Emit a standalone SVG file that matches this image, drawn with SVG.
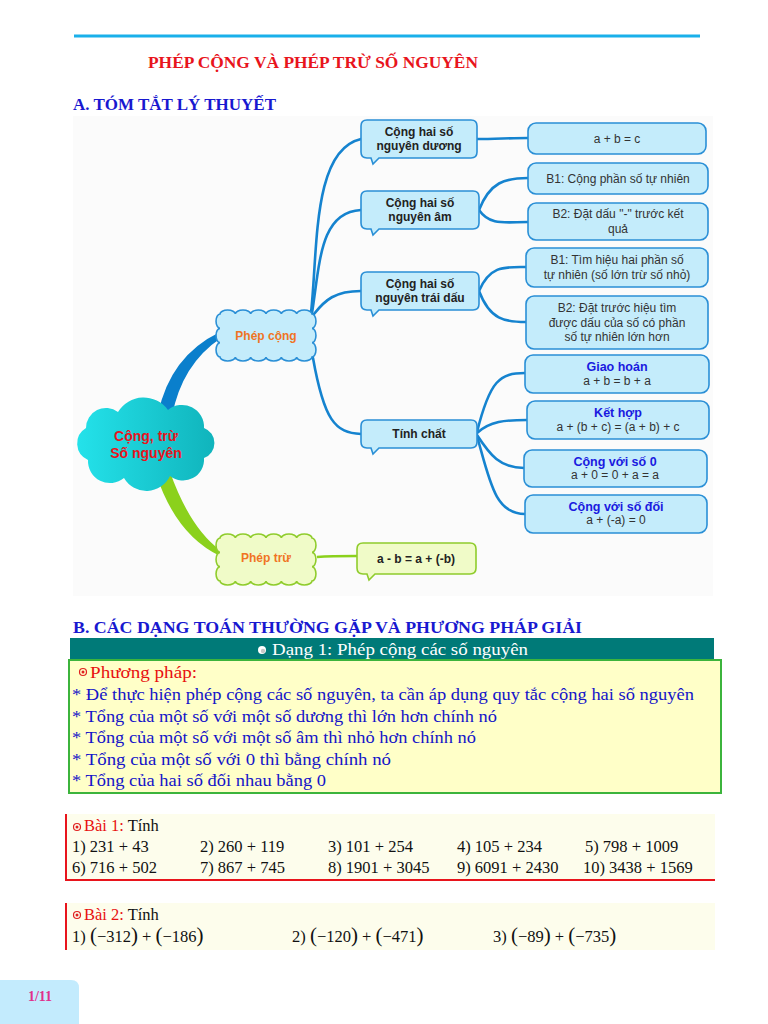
<svg xmlns="http://www.w3.org/2000/svg" width="768" height="1024" viewBox="0 0 768 1024">
<defs>
<linearGradient id="cloudG" x1="0" y1="0" x2="1" y2="0">
<stop offset="0" stop-color="#24e2ea"/>
<stop offset="1" stop-color="#10b4bc"/>
</linearGradient>
<style>
.serif{font-family:"Liberation Serif","Times New Roman",serif}
.sans{font-family:"Liberation Sans",Arial,sans-serif}
.h{font-weight:bold;font-size:17px}
.bb{fill:#c4ecfb;stroke:#2a8fd6;stroke-width:1.6}
.gb{fill:#f0fbc8;stroke:#8fcc2c;stroke-width:1.6}
.lb{font-family:"Liberation Sans",Arial,sans-serif;font-weight:bold;font-size:12px;fill:#222;text-anchor:middle}
.rt{font-family:"Liberation Sans",Arial,sans-serif;font-size:12px;fill:#333;text-anchor:middle}
.rh{font-family:"Liberation Sans",Arial,sans-serif;font-size:12.5px;font-weight:bold;fill:#1a1ae0;text-anchor:middle}
.con{fill:none;stroke:#1583cf;stroke-width:2.6;stroke-linecap:round}
.pp{font-family:"Liberation Serif","Times New Roman",serif;font-size:17.5px;fill:#1414c8}
.ex{font-family:"Liberation Serif","Times New Roman",serif;font-size:16.5px;fill:#111}
.ic{fill:none;stroke:#e02020}
</style>
</defs>
<rect width="768" height="1024" fill="#ffffff"/>
<line x1="74" y1="36" x2="700" y2="36" stroke="#1ab0ea" stroke-width="3"/>
<text x="148" y="68" class="serif h" fill="#e8141c" textLength="330" lengthAdjust="spacingAndGlyphs">PHÉP CỘNG VÀ PHÉP TRỪ SỐ NGUYÊN</text>
<text x="73" y="110" class="serif h" fill="#1818d0" textLength="203" lengthAdjust="spacingAndGlyphs">A. TÓM TẮT LÝ THUYẾT</text>
<rect x="73" y="116" width="640" height="480" fill="#fbfbfb"/>

<g id="connectors">
<path d="M158 414 Q170 356 220 332 L221 338 Q182 364 172 416 Z" fill="#0a7fcc"/>
<path d="M156 474 Q176 535 220 556 L220 550 Q190 528 170 472 Z" fill="#8bd11c"/>
<path class="con" d="M311 313 C318 250 312 150 361 139"/>
<path class="con" d="M312 313 C320 262 320 212 361 210"/>
<path class="con" d="M314 314 C325 300 335 291 361 291"/>
<path class="con" d="M313 358 C324 420 335 433 361 434"/>
<path class="con" d="M477 139 C495 139 510 138 528 138"/>
<path class="con" d="M479 210 C490 182 505 178 528 178"/>
<path class="con" d="M479 210 C490 226 505 222 528 222"/>
<path class="con" d="M479 291 C490 265 505 267 526 267"/>
<path class="con" d="M479 291 C490 320 505 322 526 322"/>
<path class="con" d="M477 432 C490 380 500 373 525 373"/>
<path class="con" d="M477 433 C490 421 505 420 527 420"/>
<path class="con" d="M477 435 C490 455 500 468 524 468"/>
<path class="con" d="M477 436 C490 482 495 514 525 514"/>
<path d="M317 557 C330 556 340 556 357 556" fill="none" stroke="#8bd11c" stroke-width="2.6"/>
</g>

<g id="root">
<path d="M86 428 A20 20 0 0 1 118 412 A30 30 0 0 1 168 410 A22 22 0 0 1 204 428 A16 16 0 0 1 204 458 A21 21 0 0 1 170 476 A26 26 0 0 1 124 478 A22 22 0 0 1 88 460 A18 18 0 0 1 86 428 Z" fill="url(#cloudG)"/>
<text x="146" y="441" class="sans" font-size="14" font-weight="bold" fill="#e8141c" text-anchor="middle">Cộng, trừ</text>
<text x="146" y="458" class="sans" font-size="14" font-weight="bold" fill="#e8141c" text-anchor="middle">Số nguyên</text>
</g>

<g id="phepcong">
<path class="bb" d="M220 314 a7.667 4 0 0 1 15.333 0 a7.667 4 0 0 1 15.333 0 a7.667 4 0 0 1 15.333 0 a7.667 4 0 0 1 15.333 0 a7.667 4 0 0 1 15.333 0 a7.667 4 0 0 1 15.333 0 a4 7.167 0 0 1 0 14.333 a4 7.167 0 0 1 0 14.333 a4 7.167 0 0 1 0 14.333 a7.667 4 0 0 1 -15.333 0 a7.667 4 0 0 1 -15.333 0 a7.667 4 0 0 1 -15.333 0 a7.667 4 0 0 1 -15.333 0 a7.667 4 0 0 1 -15.333 0 a7.667 4 0 0 1 -15.333 0 a4 7.167 0 0 1 0 -14.333 a4 7.167 0 0 1 0 -14.333 a4 7.167 0 0 1 0 -14.333 Z"/>
<text x="266" y="340" class="sans" font-size="12" font-weight="bold" fill="#f07424" text-anchor="middle">Phép cộng</text>
</g>

<g id="pheptru">
<path class="gb" d="M220 538 a7.667 4 0 0 1 15.333 0 a7.667 4 0 0 1 15.333 0 a7.667 4 0 0 1 15.333 0 a7.667 4 0 0 1 15.333 0 a7.667 4 0 0 1 15.333 0 a7.667 4 0 0 1 15.333 0 a4 7.167 0 0 1 0 14.333 a4 7.167 0 0 1 0 14.333 a4 7.167 0 0 1 0 14.333 a7.667 4 0 0 1 -15.333 0 a7.667 4 0 0 1 -15.333 0 a7.667 4 0 0 1 -15.333 0 a7.667 4 0 0 1 -15.333 0 a7.667 4 0 0 1 -15.333 0 a7.667 4 0 0 1 -15.333 0 a4 7.167 0 0 1 0 -14.333 a4 7.167 0 0 1 0 -14.333 a4 7.167 0 0 1 0 -14.333 Z"/>
<text x="266" y="562" class="sans" font-size="12" font-weight="bold" fill="#f07424" text-anchor="middle">Phép trừ</text>
</g>

<g id="duong">
<path class="bb" d="M367 120 H471 Q477 120 477 126 V152 Q477 158 471 158 H379 L373 164 L371 158 H367 Q361 158 361 152 V126 Q361 120 367 120 Z"/>
<text x="419" y="136" class="lb">Cộng hai số</text>
<text x="419" y="150" class="lb">nguyên dương</text>
</g>
<g id="am">
<path class="bb" d="M367 191 H473 Q479 191 479 197 V223 Q479 229 473 229 H379 L373 235 L371 229 H367 Q361 229 361 223 V197 Q361 191 367 191 Z"/>
<text x="420" y="207" class="lb">Cộng hai số</text>
<text x="420" y="221" class="lb">nguyên âm</text>
</g>
<g id="traidau">
<path class="bb" d="M367 272 H473 Q479 272 479 278 V304 Q479 310 473 310 H379 L373 316 L371 310 H367 Q361 310 361 304 V278 Q361 272 367 272 Z"/>
<text x="420" y="288" class="lb">Cộng hai số</text>
<text x="420" y="302" class="lb">nguyên trái dấu</text>
</g>
<g id="tinhchat">
<path class="bb" d="M367 420 H471 Q477 420 477 426 V442 Q477 448 471 448 H379 L373 454 L371 448 H367 Q361 448 361 442 V426 Q361 420 367 420 Z"/>
<text x="419" y="438" class="lb">Tính chất</text>
</g>
<g id="tru-ct">
<path class="gb" d="M363 543 H470 Q476 543 476 549 V568 Q476 574 470 574 H375 L369 580 L367 574 H363 Q357 574 357 568 V549 Q357 543 363 543 Z"/>
<text x="416" y="563" class="lb">a - b = a + (-b)</text>
</g>

<g id="abc">
<rect class="bb" x="528" y="123" width="178" height="31" rx="8"/>
<text x="617" y="143" class="rt">a + b = c</text>
</g>
<g id="am-b1">
<rect class="bb" x="528" y="163" width="180" height="31" rx="8"/>
<text x="618" y="183" class="rt">B1: Cộng phần số tự nhiên</text>
</g>
<g id="am-b2">
<rect class="bb" x="528" y="203" width="180" height="37" rx="8"/>
<text x="618" y="218" class="rt">B2: Đặt dấu "-" trước kết</text>
<text x="618" y="233" class="rt">quả</text>
</g>
<g id="td-b1">
<rect class="bb" x="526" y="248" width="182" height="39" rx="8"/>
<text x="617" y="264" class="rt">B1: Tìm hiệu hai phần số</text>
<text x="617" y="279" class="rt">tự nhiên (số lớn trừ số nhỏ)</text>
</g>
<g id="td-b2">
<rect class="bb" x="526" y="296" width="182" height="53" rx="8"/>
<text x="617" y="312" class="rt">B2: Đặt trước hiệu tìm</text>
<text x="617" y="327" class="rt">được dấu của số có phần</text>
<text x="617" y="341" class="rt">số tự nhiên lớn hơn</text>
</g>
<g id="giaohoan">
<rect class="bb" x="525" y="355" width="184" height="38" rx="8"/>
<text x="617" y="371" class="rh">Giao hoán</text>
<text x="617" y="385" class="rt">a + b = b + a</text>
</g>
<g id="kethop">
<rect class="bb" x="527" y="401" width="182" height="38" rx="8"/>
<text x="618" y="417" class="rh">Kết hợp</text>
<text x="618" y="431" class="rt">a + (b + c) = (a + b) + c</text>
</g>
<g id="so0">
<rect class="bb" x="524" y="450" width="183" height="37" rx="8"/>
<text x="615" y="466" class="rh">Cộng với số 0</text>
<text x="615" y="479" class="rt">a + 0 = 0 + a = a</text>
</g>
<g id="sodoi">
<rect class="bb" x="525" y="495" width="182" height="38" rx="8"/>
<text x="616" y="511" class="rh">Cộng với số đối</text>
<text x="616" y="524" class="rt">a + (-a) = 0</text>
</g>

<text x="73" y="633" class="serif h" fill="#1818d0" textLength="509" lengthAdjust="spacingAndGlyphs">B. CÁC DẠNG TOÁN THƯỜNG GẶP VÀ PHƯƠNG PHÁP GIẢI</text>
<rect x="70" y="638" width="644" height="21" fill="#007a78"/>
<circle cx="262" cy="650" r="4" fill="#ffffff"/>
<circle cx="263" cy="651" r="2.2" fill="#c8c8c8"/>
<text x="272" y="655" class="serif" font-size="17" fill="#ffffff" textLength="256" lengthAdjust="spacingAndGlyphs">Dạng 1: Phép cộng các số nguyên</text>

<rect x="69" y="660" width="652" height="133" fill="#ffffc8" stroke="#3cb43c" stroke-width="2"/>
<circle class="ic" cx="83" cy="672" r="3.5" stroke-width="1.2"/>
<circle cx="83" cy="672" r="1.5" fill="#e02020"/>
<text x="90" y="678" class="serif" font-size="17.5" fill="#e81010" textLength="107" lengthAdjust="spacingAndGlyphs">Phương pháp:</text>
<text x="72" y="700" class="pp" textLength="622" lengthAdjust="spacingAndGlyphs">* Để thực hiện phép cộng các số nguyên, ta cần áp dụng quy tắc cộng hai số nguyên</text>
<text x="72" y="722" class="pp" textLength="425" lengthAdjust="spacingAndGlyphs">* Tổng của một số với một số dương thì lớn hơn chính nó</text>
<text x="72" y="743" class="pp" textLength="404" lengthAdjust="spacingAndGlyphs">* Tổng của một số với một số âm thì nhỏ hơn chính nó</text>
<text x="72" y="765" class="pp" textLength="319" lengthAdjust="spacingAndGlyphs">* Tổng của một số với 0 thì bằng chính nó</text>
<text x="72" y="786" class="pp" textLength="254" lengthAdjust="spacingAndGlyphs">* Tổng của hai số đối nhau bằng 0</text>

<rect x="65" y="814" width="650" height="66" fill="#fdfdec"/>
<line x1="66" y1="814" x2="66" y2="881" stroke="#e8141c" stroke-width="2"/>
<line x1="65" y1="880" x2="715" y2="880" stroke="#e8141c" stroke-width="2"/>
<circle class="ic" cx="77" cy="827" r="3.5" stroke-width="1.2"/>
<circle cx="77" cy="827" r="1.5" fill="#e02020"/>
<text x="84" y="831" class="ex"><tspan fill="#e81010">Bài 1:</tspan> Tính</text>
<text x="72" y="852" class="ex">1) 231 + 43</text>
<text x="200" y="852" class="ex">2) 260 + 119</text>
<text x="328" y="852" class="ex">3) 101 + 254</text>
<text x="457" y="852" class="ex">4) 105 + 234</text>
<text x="585" y="852" class="ex">5) 798 + 1009</text>
<text x="72" y="873" class="ex">6) 716 + 502</text>
<text x="200" y="873" class="ex">7) 867 + 745</text>
<text x="328" y="873" class="ex">8) 1901 + 3045</text>
<text x="457" y="873" class="ex">9) 6091 + 2430</text>
<text x="583" y="873" class="ex">10) 3438 + 1569</text>

<rect x="65" y="903" width="650" height="47" fill="#fdfdec"/>
<line x1="66" y1="903" x2="66" y2="950" stroke="#e8141c" stroke-width="2"/>
<circle class="ic" cx="77" cy="915" r="3.5" stroke-width="1.2"/>
<circle cx="77" cy="915" r="1.5" fill="#e02020"/>
<text x="84" y="920" class="ex"><tspan fill="#e81010">Bài 2:</tspan> Tính</text>
<text x="72" y="942" class="ex">1) <tspan font-size="21">(</tspan>−312<tspan font-size="21">)</tspan> + <tspan font-size="21">(</tspan>−186<tspan font-size="21">)</tspan></text>
<text x="292" y="942" class="ex">2) <tspan font-size="21">(</tspan>−120<tspan font-size="21">)</tspan> + <tspan font-size="21">(</tspan>−471<tspan font-size="21">)</tspan></text>
<text x="493" y="942" class="ex">3) <tspan font-size="21">(</tspan>−89<tspan font-size="21">)</tspan> + <tspan font-size="21">(</tspan>−735<tspan font-size="21">)</tspan></text>

<path d="M0 980 H71 Q79 980 79 988 V1024 H0 Z" fill="#c3ebfd"/>
<text x="40" y="1001" class="serif" font-size="14" font-weight="bold" fill="#e0308c" text-anchor="middle">1/11</text>
</svg>
